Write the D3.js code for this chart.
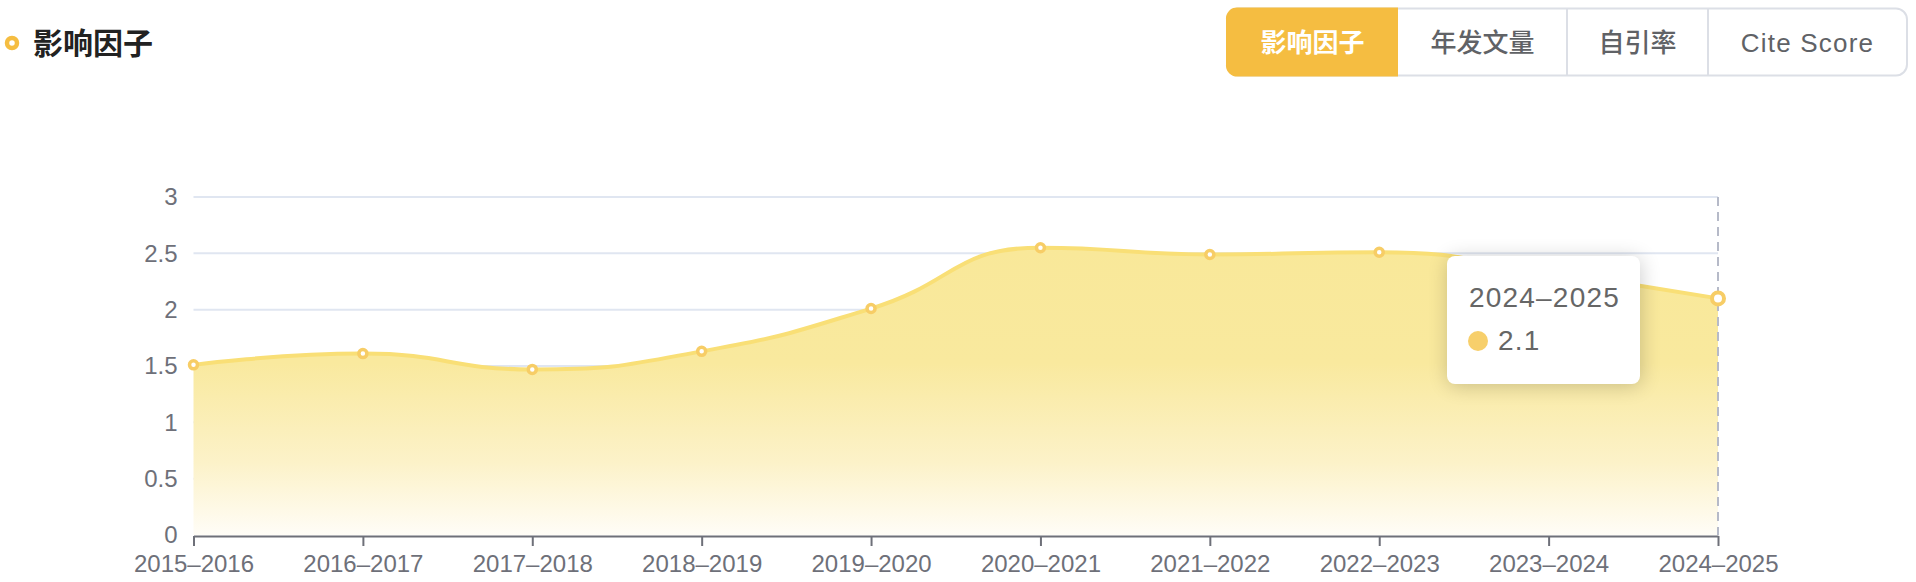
<!DOCTYPE html>
<html>
<head>
<meta charset="utf-8">
<script src="https://cdn.jsdelivr.net/npm/d3@7/dist/d3.min.js"></script>
<style>
  html, body { margin: 0; padding: 0; background: #fff; }
  body { width: 1916px; height: 582px; position: relative; overflow: hidden;
         font-family: "Liberation Sans", "Noto Sans CJK SC", sans-serif; }
  #tip { position: absolute; background: #fff; border-radius: 8px;
         box-shadow: 1px 2px 20px rgba(0,0,0,0.2); box-sizing: border-box; }
  #tip .t { position: absolute; font-size: 28px; color: #666; white-space: nowrap; line-height: 1; letter-spacing: 1.2px; }
  #tip .dot { position: absolute; width: 20px; height: 20px; border-radius: 50%; }
</style>
</head>
<body>
<svg id="chart" width="1916" height="582"></svg>
<div id="tip"></div>
<script>
const categories = ["2015–2016","2016–2017","2017–2018","2018–2019","2019–2020","2020–2021","2021–2022","2022–2023","2023–2024","2024–2025"];
const impactFactor = [1.51, 1.61, 1.47, 1.63, 2.01, 2.55, 2.49, 2.51, 2.33, 2.1];
const yTicks = [0, 0.5, 1, 1.5, 2, 2.5, 3];
const tabs = ["影响因子", "年发文量", "自引率", "Cite Score"];
const title = "影响因子";
const activeIndex = 9;

const gold = "#f5bd41";
const svg = d3.select("#chart");

// ECharts-like smooth curve
function ESmooth(context, s) { this._context = context; this._s = s; }
ESmooth.prototype = {
  areaStart() { this._line = 0; },
  areaEnd() { this._line = NaN; },
  lineStart() { this._pts = []; },
  point(x, y) { this._pts.push([+x, +y]); },
  lineEnd() {
    const p = this._pts, c = this._context, s = this._s, n = p.length;
    if (n) {
      this._line ? c.lineTo(p[0][0], p[0][1]) : c.moveTo(p[0][0], p[0][1]);
      let cp0x = p[0][0], cp0y = p[0][1];
      for (let i = 1; i < n; i++) {
        const [x, y] = p[i], [px, py] = p[i - 1];
        let cp1x, cp1y, ncx, ncy;
        if (i === n - 1) { cp1x = x; cp1y = y; }
        else {
          const [nx, ny] = p[i + 1];
          let vx = nx - px, vy = ny - py;
          const l0 = Math.hypot(x - px, y - py), l1 = Math.hypot(nx - x, ny - y);
          const r = l1 / (l0 + l1);
          ncx = x + vx * s * r; ncy = y + vy * s * r;
          ncx = Math.min(ncx, Math.max(nx, x)); ncy = Math.min(ncy, Math.max(ny, y));
          ncx = Math.max(ncx, Math.min(nx, x)); ncy = Math.max(ncy, Math.min(ny, y));
          vx = ncx - x; vy = ncy - y;
          cp1x = x - vx * l0 / l1; cp1y = y - vy * l0 / l1;
          cp1x = Math.min(cp1x, Math.max(px, x)); cp1y = Math.min(cp1y, Math.max(py, y));
          cp1x = Math.max(cp1x, Math.min(px, x)); cp1y = Math.max(cp1y, Math.min(py, y));
          vx = x - cp1x; vy = y - cp1y;
          ncx = x + vx * l1 / l0; ncy = y + vy * l1 / l0;
        }
        c.bezierCurveTo(cp0x, cp0y, cp1x, cp1y, x, y);
        cp0x = ncx; cp0y = ncy;
      }
    }
    if (this._line || (this._line !== 0 && n === 1)) c.closePath();
    this._line = 1 - this._line;
  }
};
const smoothCurve = ctx => new ESmooth(ctx, 0.5);

// Header
const head = svg.append("g");
head.append("circle").attr("cx", 12).attr("cy", 43).attr("r", 5)
  .attr("fill", "#fff").attr("stroke", gold).attr("stroke-width", 4.5);
head.append("text").attr("x", 33).attr("y", 43).attr("dy", "0.36em")
  .attr("font-size", 30).attr("font-weight", 700).attr("fill", "#222")
  .attr("font-family", "'Noto Sans CJK SC', sans-serif").text(title);

// Tabs
const tabEdges = [1227, 1398, 1567, 1708, 1907];
const tabTop = 8.5, tabH = 67, rad = 11;
const tg = svg.append("g");
tg.append("rect").attr("x", tabEdges[0]).attr("y", tabTop).attr("width", tabEdges[4] - tabEdges[0])
  .attr("height", tabH).attr("rx", rad).attr("fill", "#fff").attr("stroke", "#dcdfe6").attr("stroke-width", 2);
const ax0 = tabEdges[0], ax1 = tabEdges[1], ay0 = tabTop, ay1 = tabTop + tabH;
tg.append("path").attr("fill", gold)
  .attr("d", `M${ax1},${ay0 - 1}H${ax0 + rad}A${rad},${rad} 0 0 0 ${ax0 - 1},${ay0 + rad}V${ay1 - rad}A${rad},${rad} 0 0 0 ${ax0 + rad},${ay1 + 1}H${ax1}Z`);
tabEdges.slice(2, 4).forEach(x => tg.append("line").attr("x1", x).attr("x2", x)
  .attr("y1", tabTop).attr("y2", tabTop + tabH).attr("stroke", "#dcdfe6").attr("stroke-width", 2));
tabs.forEach((t, i) => {
  tg.append("text").attr("x", (tabEdges[i] + tabEdges[i + 1]) / 2).attr("y", 43).attr("dy", "0.36em")
    .attr("text-anchor", "middle").attr("font-size", 26).attr("font-weight", i === 0 ? 700 : 500)
    .attr("letter-spacing", /[A-Za-z]/.test(t) ? "1.2px" : null)
    .attr("fill", i === 0 ? "#fff" : "#606266").text(t);
});

// Scales
const x = d3.scalePoint().domain(categories).range([193.5, 1718]);
const y = d3.scaleLinear().domain([0, 3]).range([535, 197]);

// Grid
svg.append("g").selectAll("line").data(yTicks.filter(d => d > 0)).join("line")
  .attr("x1", x.range()[0]).attr("x2", x.range()[1])
  .attr("y1", d => y(d)).attr("y2", d => y(d))
  .attr("stroke", "#e0e6f1").attr("stroke-width", 2);

// Gradient
const defs = svg.append("defs");
const grad = defs.append("linearGradient").attr("id", "areaGrad").attr("x1", 0).attr("y1", 0).attr("x2", 0).attr("y2", 1);
[[0, "#f9e899", 1], [0.4, "#f9e99e", 1], [0.75, "#fcf2c9", 1], [1, "#fffdf7", 1]].forEach(s =>
  grad.append("stop").attr("offset", s[0]).attr("stop-color", s[1]).attr("stop-opacity", s[2]));

const data = categories.map((c, i) => ({ c, v: impactFactor[i] }));

svg.append("path").datum(data)
  .attr("fill", "url(#areaGrad)")
  .attr("d", d3.area().x(d => x(d.c)).y0(y(0)).y1(d => y(d.v)).curve(smoothCurve));

// Y axis labels
const yAxis = svg.append("g").attr("transform", `translate(${x.range()[0]},0)`)
  .call(d3.axisLeft(y).tickValues(yTicks).tickSize(0).tickPadding(16).tickFormat(d3.format("")));
yAxis.select(".domain").remove();
yAxis.selectAll("text").attr("font-size", 24).attr("fill", "#6e7079")
  .attr("font-family", "'Liberation Sans', sans-serif");

// Hover pointer
svg.append("line").attr("x1", x(categories[activeIndex])).attr("x2", x(categories[activeIndex]))
  .attr("y1", y(3)).attr("y2", y(0)).attr("stroke", "#b6bac8").attr("stroke-width", 2)
  .attr("stroke-dasharray", "9,6");

// X axis
const xAxis = svg.append("g").attr("transform", `translate(0,${y(0) + 1})`)
  .call(d3.axisBottom(x).tickSizeInner(10).tickSizeOuter(0).tickPadding(9));
xAxis.select(".domain").attr("stroke", "#6e7079").attr("stroke-width", 2);
xAxis.selectAll(".tick line").attr("stroke", "#6e7079").attr("stroke-width", 2);
xAxis.selectAll("text").attr("font-size", 24).attr("fill", "#6e7079")
  .attr("font-family", "'Liberation Sans', sans-serif");

// Line
svg.append("path").datum(data).attr("fill", "none")
  .attr("stroke", "#f9df76").attr("stroke-width", 4).attr("stroke-linejoin", "round")
  .attr("d", d3.line().x(d => x(d.c)).y(d => y(d.v)).curve(smoothCurve));

// Points
svg.append("g").selectAll("circle").data(data).join("circle")
  .attr("cx", d => x(d.c)).attr("cy", d => y(d.v))
  .attr("r", (d, i) => i === activeIndex ? 6 : 4)
  .attr("fill", "#fff").attr("stroke", "#f7cd66")
  .attr("stroke-width", (d, i) => i === activeIndex ? 4 : 3.5);

// Tooltip
const tip = d3.select("#tip")
  .style("left", "1447px").style("top", "256px").style("width", "193px").style("height", "128px");
tip.append("div").attr("class", "t").style("left", "22px").style("top", "28px").text(categories[activeIndex]);
tip.append("div").attr("class", "dot").style("left", "21px").style("top", "75px").style("background", "#f7cf6b");
tip.append("div").attr("class", "t").style("left", "51px").style("top", "71px").text(String(impactFactor[activeIndex]));
</script>
</body>
</html>
